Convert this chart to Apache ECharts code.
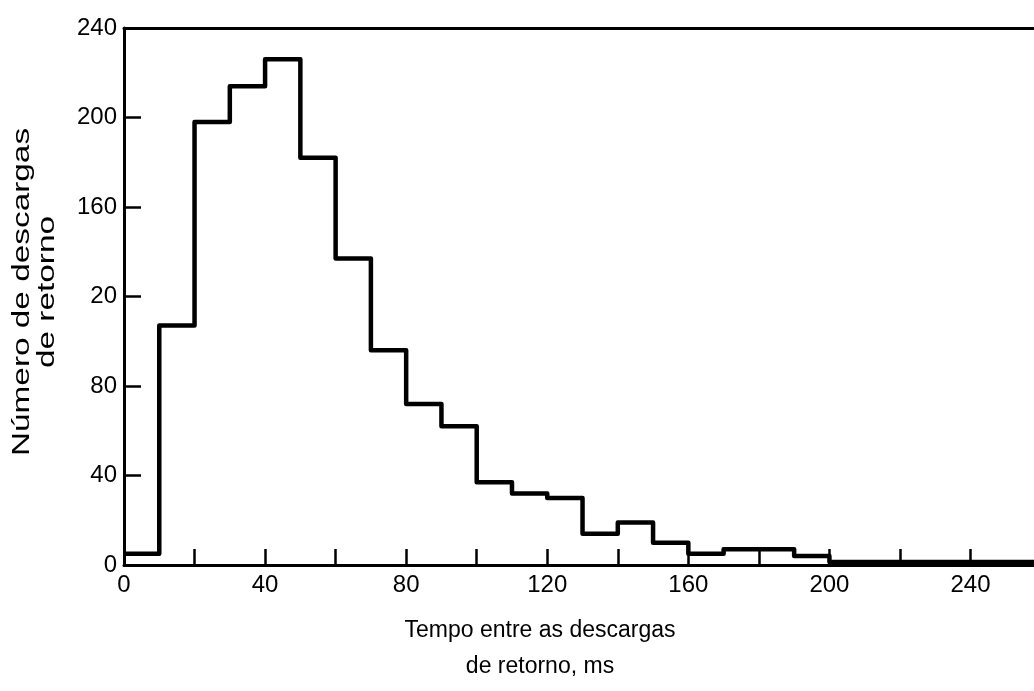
<!DOCTYPE html>
<html>
<head>
<meta charset="utf-8">
<script src="https://cdn.jsdelivr.net/npm/echarts@6/dist/echarts.min.js"></script>
<style>
  html, body { margin: 0; padding: 0; background: #fff; }
  #chart { width: 1034px; height: 691px; }
</style>
</head>
<body>
<div id="chart"></div>
<script>
// bin start (ms) and counts per 10 ms bin
const binStarts = [0, 10, 20, 30, 40, 50, 60, 70, 80, 90, 100, 110, 120, 130, 140, 150, 160, 170, 180, 190, 200, 210, 220, 230, 240, 250, 260];
const counts = [5, 107, 198, 214, 226, 182, 137, 96, 72, 62, 37, 32, 30, 14, 19, 10, 5, 7, 7, 4, 1.3, 1.3, 1.3, 1.3, 1.3, 1.3, 1.3];
// y tick labels as printed (the 120 tick reads "20" in the original)
const yTickValues = [0, 40, 80, 120, 160, 200, 240];
const yTickLabels = ["0", "40", "80", "20", "160", "200", "240"];
const xTitle = "Tempo entre as descargas\nde retorno, ms";
const yTitle = "Número de descargas\nde retorno";

const font = "'Liberation Sans', Arial, sans-serif";
const chart = echarts.init(document.getElementById("chart"));

const stepData = binStarts.map((x, i) => [x, counts[i]]);

chart.setOption({
  animation: false,
  backgroundColor: "#fff",
  grid: { left: 124, right: 0, top: 28, bottom: 126 },
  xAxis: [
    {
      type: "value",
      min: 0,
      max: 258,
      interval: 20,
      axisLine: { lineStyle: { color: "#000", width: 3 } },
      axisTick: { inside: true, length: 16, lineStyle: { color: "#000", width: 2.5 } },
      axisLabel: {
        color: "#000",
        fontFamily: font,
        fontSize: 24,
        margin: 8,
        showMaxLabel: false,
        formatter: v => (v % 40 === 0 ? String(v) : "")
      },
      splitLine: { show: false }
    },
    {
      type: "value",
      position: "top",
      min: 0,
      max: 258,
      axisLine: { show: true, lineStyle: { color: "#000", width: 3 } },
      axisTick: { show: false },
      axisLabel: { show: false },
      splitLine: { show: false }
    }
  ],
  yAxis: {
    type: "value",
    min: 0,
    max: 240,
    interval: 40,
    axisLine: { show: true, lineStyle: { color: "#000", width: 3 } },
    axisTick: { show: true, inside: true, length: 17, lineStyle: { color: "#000", width: 2.5 } },
    axisLabel: {
      color: "#000",
      fontFamily: font,
      fontSize: 24,
      margin: 7,
      formatter: v => {
        const i = yTickValues.indexOf(v);
        return i >= 0 ? yTickLabels[i] : "";
      }
    },
    splitLine: { show: false }
  },
  series: [
    {
      type: "line",
      step: "end",
      data: stepData,
      showSymbol: false,
      clip: true,
      lineStyle: { color: "#000", width: 4.5, join: "round" }
    }
  ],
  graphic: [
    {
      type: "text",
      x: 540,
      y: 649,
      style: {
        text: xTitle,
        fill: "#000",
        font: "23px " + font,
        textAlign: "center",
        textVerticalAlign: "middle",
        lineHeight: 36
      }
    },
    {
      type: "text",
      x: 35,
      y: 292,
      rotation: Math.PI / 2,
      scaleX: 1.45,
      style: {
        text: yTitle,
        fill: "#000",
        font: "23px " + font,
        textAlign: "center",
        textVerticalAlign: "middle",
        lineHeight: 25
      }
    }
  ]
});
</script>
</body>
</html>
